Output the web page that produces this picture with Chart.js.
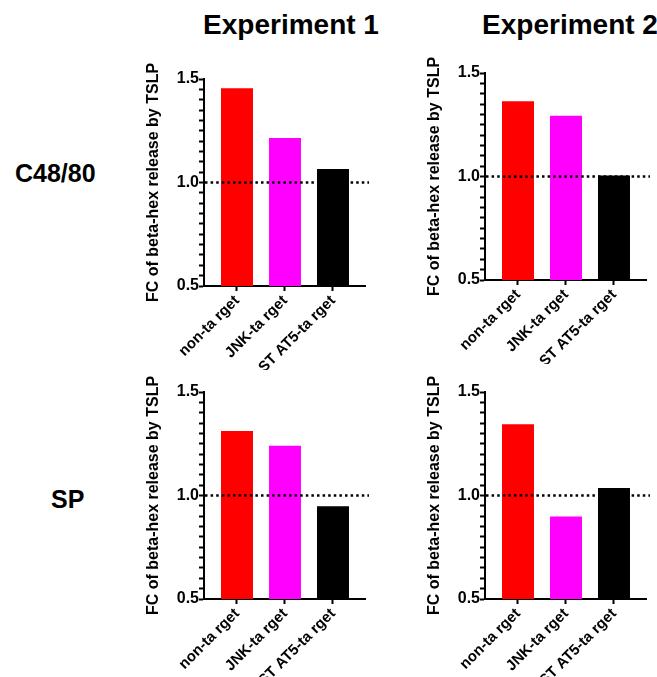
<!DOCTYPE html>
<html>
<head>
<meta charset="utf-8">
<script src="https://cdn.jsdelivr.net/npm/chart.js@4/dist/chart.umd.min.js"></script>
<style>
  html, body { margin: 0; padding: 0; background: #fff; overflow: hidden; }
  body { width: 657px; height: 677px; position: relative; font-family: "Liberation Sans", Arial, sans-serif; }
  canvas { position: absolute; }
  .lbl { position: absolute; font-weight: bold; color: #000; line-height: 1; white-space: nowrap; }
</style>
</head>
<body>
<div class="lbl" style="left:141px; top:11px; width:300px; text-align:center; font-size:28px;">Experiment 1</div>
<div class="lbl" style="left:420px; top:11px; width:300px; text-align:center; font-size:28px;">Experiment 2</div>
<div class="lbl" style="left:15px; top:161px; font-size:25px;">C48/80</div>
<div class="lbl" style="left:51px; top:487px; font-size:25px;">SP</div>

<canvas id="c4880Exp1" width="245" height="310" style="left:130px; top:60px;"></canvas>
<canvas id="c4880Exp2" width="245" height="310" style="left:411px; top:54px;"></canvas>
<canvas id="spExp1" width="245" height="310" style="left:130px; top:373px;"></canvas>
<canvas id="spExp2" width="245" height="310" style="left:411px; top:373px;"></canvas>

<script>
// data
const categories = ['non-ta rget', 'JNK-ta rget', 'ST AT5-ta rget'];
const c4880Exp1 = [1.455, 1.215, 1.065];
const c4880Exp2 = [1.363, 1.293, 1.005];
const spExp1 = [1.311, 1.240, 0.948];
const spExp2 = [1.344, 0.898, 1.036];
const yMin = 0.5;
const yMax = 1.5;
const yMajorTicks = [0.5, 1.0, 1.5];
const refLine = 1.0;
const yTitle = 'FC of beta-hex release by TSLP';

const barColors = ['#ff0000', '#ff00ff', '#000000'];

Chart.defaults.font.family = '"Liberation Sans", Arial, sans-serif';
Chart.defaults.color = '#000';

// dotted reference line at FC = 1
const refLinePlugin = {
    id: 'refLine',
    afterDatasetsDraw(chart) {
        const {ctx, chartArea, scales} = chart;
        const y = scales.y.getPixelForValue(refLine);
        ctx.save();
        ctx.strokeStyle = '#000';
        ctx.lineWidth = 2.5;
        ctx.setLineDash([2.5, 3.1]);
        ctx.beginPath();
        ctx.moveTo(chartArea.left + 1, y);
        ctx.lineTo(chartArea.right + 4, y);
        ctx.stroke();
        ctx.restore();
    }
};

function isMajor(v) {
    return yMajorTicks.some(m => Math.abs(m - v) < 1e-6);
}

function createPanel(id, values) {
    const ctx = document.getElementById(id).getContext('2d');
    new Chart(ctx, {
        type: 'bar',
        data: {
            datasets: [{
                data: values.map((v, i) => ({x: i, y: v})),
                backgroundColor: barColors,
                borderWidth: 0,
                barPercentage: 2 / 3,
                categoryPercentage: 1
            }]
        },
        options: {
            responsive: false,
            animation: false,
            layout: {
                padding: {top: 19, right: 10, left: 0, bottom: 0}
            },
            plugins: {
                legend: {display: false},
                tooltip: {enabled: false}
            },
            scales: {
                x: {
                    type: 'linear',
                    offset: false,
                    bounds: 'data',
                    min: -0.6875,
                    max: 2.667,
                    afterBuildTicks: scale => {
                        scale.ticks = categories.map((c, i) => ({value: i}));
                    },
                    afterFit: scale => { scale.height = 84; },
                    grid: {
                        offset: false,
                        drawOnChartArea: false,
                        tickLength: 5,
                        tickWidth: 2,
                        tickColor: '#000'
                    },
                    border: {display: true, color: '#000', width: 2},
                    ticks: {
                        autoSkip: false,
                        minRotation: 45,
                        maxRotation: 45,
                        padding: 1,
                        font: {size: 15, weight: 'bold'},
                        callback: v => categories[v]
                    }
                },
                y: {
                    min: yMin,
                    max: yMax,
                    afterFit: scale => { scale.width = 74; },
                    grid: {
                        drawOnChartArea: false,
                        tickLength: 5,
                        tickWidth: 2,
                        tickColor: '#000'
                    },
                    border: {display: true, color: '#000', width: 2},
                    ticks: {
                        stepSize: 0.05,
                        autoSkip: false,
                        padding: 0,
                        font: {size: 16, weight: 'bold'},
                        callback: v => isMajor(v) ? v.toFixed(1) : ''
                    },
                    title: {
                        display: true,
                        text: yTitle,
                        padding: {top: 14, bottom: 0},
                        font: {size: 16, weight: 'bold'}
                    }
                }
            }
        },
        plugins: [refLinePlugin]
    });
}

createPanel('c4880Exp1', c4880Exp1);
createPanel('c4880Exp2', c4880Exp2);
createPanel('spExp1', spExp1);
createPanel('spExp2', spExp2);
</script>
</body>
</html>
